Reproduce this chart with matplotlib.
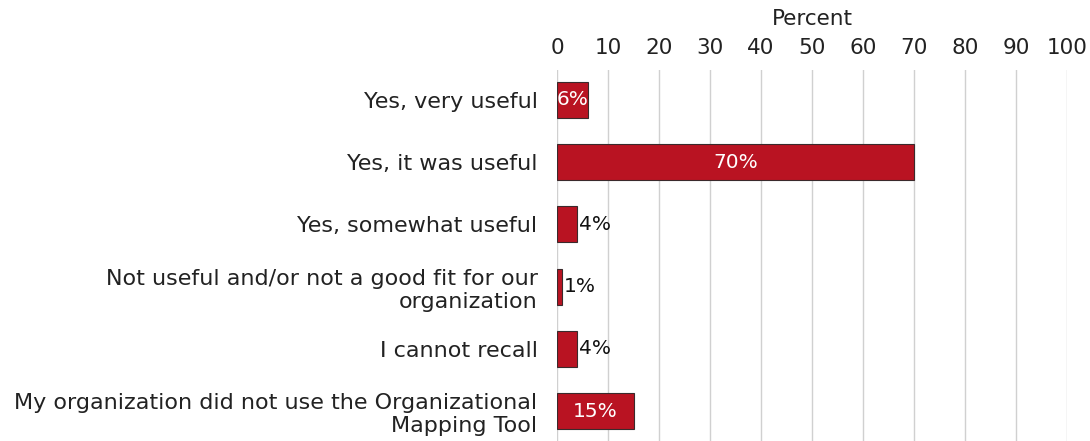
import matplotlib
matplotlib.use("Agg")
import matplotlib.pyplot as plt

categories = [
    "Yes, very useful",
    "Yes, it was useful",
    "Yes, somewhat useful",
    "Not useful and/or not a good fit for our\norganization",
    "I cannot recall",
    "My organization did not use the Organizational\nMapping Tool",
]
values = [6, 70, 4, 1, 4, 15]
ticks = list(range(0, 101, 10))

plt.rcParams["font.family"] = ["DejaVu Sans"]

fig = plt.figure(figsize=(10.9, 4.41), dpi=100)
ax = fig.add_axes([0.511, 0.0, 0.468, 0.841])

pos = list(range(len(categories)))
ax.barh(pos, values, height=0.58, color="#B91322", edgecolor="#3a2a2c", linewidth=0.8, zorder=3)

for y, v in zip(pos, values):
    if v >= 6:
        ax.text(v / 2, y, f"{v}%", ha="center", va="center", color="white", fontsize=14.5, zorder=4)
    else:
        ax.text(v + 0.4, y, f"{v}%", ha="left", va="center", color="#111111", fontsize=14.5, zorder=4)

ax.set_xlim(0, 100)
ax.set_ylim(len(categories) - 0.52, -0.48)
ax.set_xticks(ticks)
ax.xaxis.tick_top()
ax.xaxis.set_label_position("top")
ax.set_xlabel("Percent", fontsize=15.5, color="#222222", labelpad=9)
ax.tick_params(axis="x", length=0, labelsize=15.5, labelcolor="#222222", pad=9)
ax.set_yticks(pos)
ax.set_yticklabels(categories, fontsize=16, color="#222222", linespacing=1.2)
ax.tick_params(axis="y", length=0, pad=14)
for lbl in ax.get_yticklabels():
    lbl.set_horizontalalignment("right")

ax.grid(axis="x", color="#d0d0d0", linewidth=1, zorder=0)
for s in ax.spines.values():
    s.set_visible(False)

fig.savefig("out.png", dpi=100)
